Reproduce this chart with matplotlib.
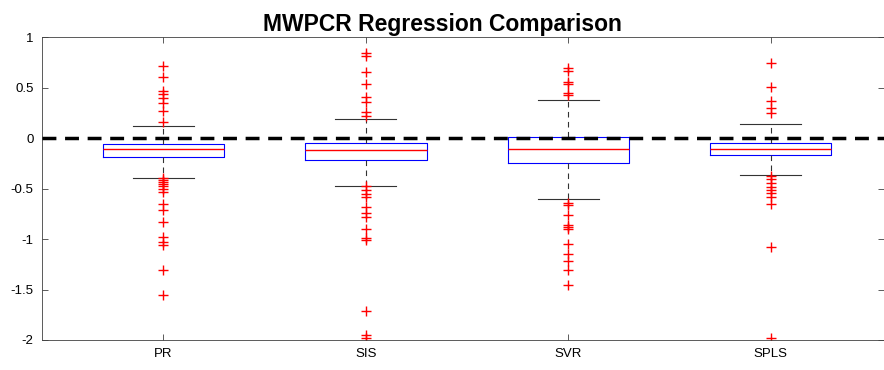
import matplotlib
matplotlib.use("Agg")
import matplotlib.pyplot as plt

# MWPCR regression comparison
methods = ["PR", "SIS", "SVR", "SPLS"]

q1 = [-0.19, -0.218, -0.245, -0.17]
med = [-0.112, -0.119, -0.106, -0.109]
q3 = [-0.056, -0.046, 0.013, -0.046]
whislo = [-0.393, -0.472, -0.60, -0.366]
whishi = [0.122, 0.185, 0.38, 0.142]

fliers_pr = [0.713, 0.607, 0.468, 0.433, 0.393, 0.35, 0.267, 0.161,
             -0.40, -0.42, -0.44, -0.46, -0.48, -0.50, -0.53, -0.65, -0.71,
             -0.83, -0.98, -1.03, -1.06, -1.31, -1.55]
fliers_sis = [0.838, 0.815, 0.65, 0.532, 0.403, 0.36, 0.26, 0.218,
              -0.48, -0.515, -0.554, -0.587, -0.68, -0.746, -0.78, -0.904,
              -0.99, -1.01, -1.71, -1.95, -1.98]
fliers_svr = [0.69, 0.667, 0.55, 0.53, 0.449, 0.426,
              -0.647, -0.663, -0.762, -0.861, -0.878, -0.90, -1.05, -1.15,
              -1.218, -1.307, -1.455]
fliers_spls = [0.74, 0.508, 0.369, 0.294, 0.25,
               -0.376, -0.409, -0.449, -0.482, -0.515, -0.548, -0.58, -0.653,
               -1.076, -1.98]

fliers = [fliers_pr, fliers_sis, fliers_svr, fliers_spls]

plt.rcParams['font.family'] = ['Liberation Sans', 'DejaVu Sans']

stats = []
for i, name in enumerate(methods):
    stats.append({
        "label": name, "q1": q1[i], "med": med[i], "q3": q3[i],
        "whislo": whislo[i], "whishi": whishi[i], "fliers": fliers[i],
    })

fig = plt.figure(figsize=(8.84, 3.7), dpi=100)
ax = fig.add_axes([42 / 884, 30 / 370, 842 / 884, 303 / 370])

ax.bxp(stats, positions=[1, 2, 3, 4], widths=0.6, patch_artist=False,
       boxprops=dict(color="blue", linewidth=0.8),
       medianprops=dict(color="red", linewidth=1.0, zorder=4),
       whiskerprops=dict(color="#333333", linewidth=0.8, linestyle=(0, (5, 4))),
       capprops=dict(color="#333333", linewidth=0.8),
       capwidths=0.3,
       flierprops=dict(marker="+", markeredgecolor="red", markersize=7,
                       markeredgewidth=1.0, linestyle="none"))

ax.axhline(0, color="black", linestyle=(0, (4, 2.5)), linewidth=2.5, zorder=5)

ax.set_xlim(0.4, 4.56)
ax.set_ylim(-2, 1)
ax.set_yticks([-2, -1.5, -1, -0.5, 0, 0.5, 1])
ax.set_yticklabels(["-2", "-1.5", "-1", "-0.5", "0", "0.5", "1"])
ax.set_xticks([1, 2, 3, 4])
ax.set_xticklabels(methods)
ax.tick_params(direction="in", top=True, right=True, length=4,
               labelsize=9.5, color="#404040", width=0.6, pad=6)
for s in ax.spines.values():
    s.set_color("#404040")
    s.set_linewidth(0.6)

# title is centred on the figure, not on the axes
ax.set_title("MWPCR Regression Comparison", fontsize=16.5, fontweight="bold",
             pad=4, x=(442 - 42) / 842)

fig.savefig("out.png", dpi=100)
